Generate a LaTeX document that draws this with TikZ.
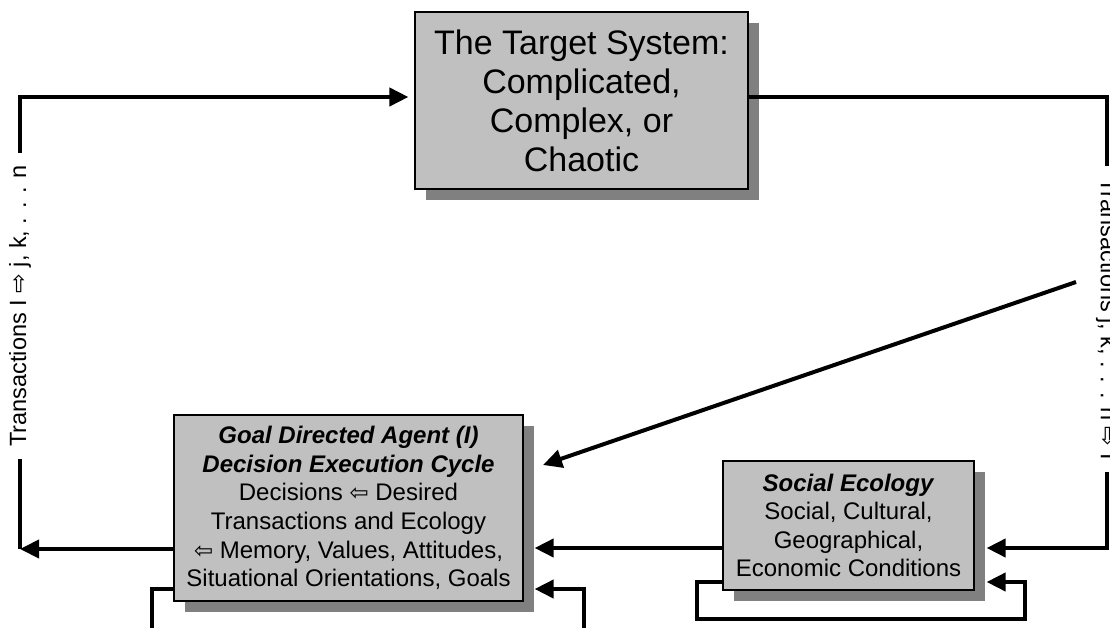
\documentclass[tikz,border=0pt]{standalone}
\usepackage{fontspec}
\setmainfont{Liberation Sans}
\newfontfamily\arrowfont{DejaVu Sans}
\usetikzlibrary{arrows.meta,shadows}
\definecolor{boxgray}{HTML}{C0C0C0}
\definecolor{shadegray}{HTML}{808080}
\newcommand{\larr}{{\arrowfont\scalebox{0.95}{⇦}}}
\newcommand{\rarr}{{\arrowfont ⇨}}

\begin{document}
\begin{tikzpicture}[x=1pt,y=-1pt,
    sysbox/.style={draw=black, line width=1.2pt, fill=boxgray, align=center, inner sep=0pt,
        drop shadow={shadow xshift=11pt,shadow yshift=-11pt,fill=shadegray,opacity=1}},
    flow/.style={line width=4pt},
    tip/.style={-{Triangle[length=19pt,width=18pt]}},
    sidetext/.style={inner xsep=12pt, inner ysep=1pt, font=\fontsize{23.5}{27}\selectfont}]

            \clip (0,0) rectangle (1110,628);

            \node[sysbox, minimum width=333pt, minimum height=177pt, font=\fontsize{34}{39}\selectfont]
                (target) at (581.5,100.5) {The Target System:\\Complicated,\\Complex, or\\Chaotic};

            \node[sysbox, minimum width=349pt, minimum height=186pt, font=\fontsize{24}{28.6}\selectfont]
                (agent) at (348.5,508) {\textbf{\textit{Goal Directed Agent (I)}}\\
                \textbf{\textit{Decision Execution Cycle}}\\
                Decisions \larr{} Desired\\
                Transactions and Ecology\\
                \larr{} Memory, Values, Attitudes,\\
                Situational Orientations, Goals};

            \node[sysbox, minimum width=251pt, minimum height=129pt, font=\fontsize{24}{28.6}\selectfont]
                (social) at (848.5,525.5) {\textbf{\textit{Social Ecology}}\\Social, Cultural,\\
                Geographical,\\Economic Conditions};

            \node[sidetext, rotate=90] (tleft) at (20,306) {Transactions I \rarr{} j, k, . . . n};
            \node[sidetext, rotate=-90] (tright) at (1107,319) {Transactions j, k, . . . n \rarr{} I};

            \coordinate (lcorner) at (20,549);
            \coordinate (ltop) at (20,97);
            \coordinate (rtop) at (1107,97);
            \coordinate (rcorner) at (1107,548);

            \draw[flow,tip] (agent.west |- 0,549) -- (lcorner);
            \draw[flow] (lcorner) -- (tleft.west);
            \draw[flow,tip,shorten >=6pt] (tleft.east) -- (ltop) -- (target.west |- ltop);

            \draw[flow] (target.east |- rtop) -- (rtop) -- (tright.west);
            \draw[flow,tip,shorten >=12pt] (tright.east) -- (rcorner) -- (social.east |- rcorner);

            \coordinate (dstart) at (1076,282);
            \coordinate (dend) at (543,465);
            \draw[flow,tip] (dstart) -- (dend);

            \draw[flow,tip,shorten >=11pt] (social.west |- 0,548) -- (agent.east |- 0,548);

            \coordinate (sl) at (697,619);
            \coordinate (sr) at (1025,619);
            \draw[flow,tip,shorten >=12pt] (social.west |- 0,582) -- (sl |- 0,582) -- (sl) -- (sr)
                -- (sr |- 0,582) -- (social.east |- 0,582);

            \coordinate (al) at (152,640);
            \coordinate (ar) at (584,640);
            \draw[flow] (agent.west |- 0,589) -- (al |- 0,589) -- (al);
            \draw[flow,tip,shorten >=11pt] (ar) -- (ar |- 0,589) -- (agent.east |- 0,589);

        \end{tikzpicture}
\end{document}
